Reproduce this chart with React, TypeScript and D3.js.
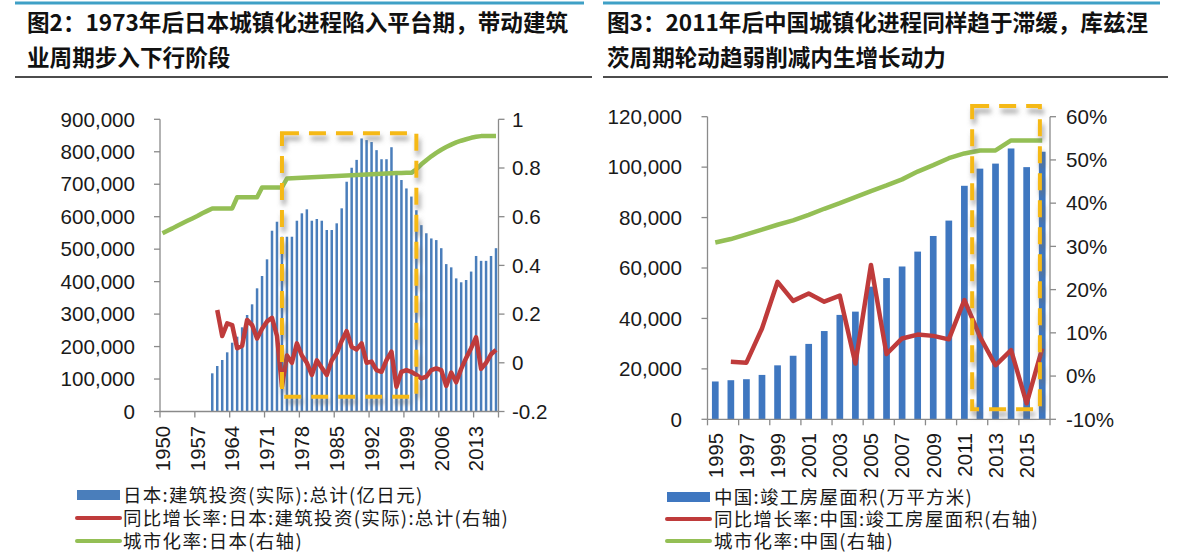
import React from 'react';
import * as d3 from 'd3';

// ---------- Japan (left) ----------
const jpYears: string[] = d3.range(1950, 2018).map(String);
const jpInvest: (number | null)[] = [
  null, null, null, null, null, null, null, null, null, null,
  117600, 140100, 158600, 182300, 211900, 230400, 259300, 297200, 330100, 379400,
  417300, 468700, 556800, 584500, 538300, 538300, 538300, 587600, 610400, 622700,
  587600, 592900, 587600, 559000, 559000, 579600, 625800, 707700, 750800, 775000,
  841000, 836000, 830000, 805000, 777000, 777000, 814000, 738000, 713000, 687000,
  662000, 620000, 574000, 549000, 533000, 528000, 503000, 454000, 444000, 410000,
  398000, 405000, 431000, 479000, 464000, 464000, 479000, 503000,
];
const jpGrowth: (number | null)[] = [
  null, null, null, null, null, null, null, null, null, null,
  null, 0.217, 0.11, 0.162, 0.155, 0.06, 0.07, 0.176, 0.155, 0.10,
  0.14, 0.17, 0.185, 0.11, -0.098, 0.03, 0.0, 0.08, 0.03, 0.0,
  -0.05, 0.01, -0.02, -0.05, 0.01, 0.04, 0.09, 0.13, 0.066, 0.055,
  0.08, 0.0, 0.005, -0.03, -0.037, 0.011, 0.046, -0.098, -0.037, -0.03,
  -0.037, -0.05, -0.064, -0.057, -0.03, -0.023, -0.03, -0.095, -0.04, -0.08,
  -0.025, 0.02, 0.06, 0.105, -0.025, 0.0, 0.035, 0.053,
];
const jpUrban: number[] = [
  0.532, 0.542, 0.552, 0.563, 0.573, 0.583, 0.593, 0.603, 0.614, 0.624,
  0.634, 0.634, 0.634, 0.634, 0.634, 0.68, 0.68, 0.68, 0.68, 0.68,
  0.72, 0.72, 0.72, 0.72, 0.72, 0.757, 0.758, 0.759, 0.76, 0.761,
  0.762, 0.763, 0.764, 0.765, 0.766, 0.767, 0.768, 0.769, 0.77, 0.771,
  0.772, 0.773, 0.774, 0.775, 0.776, 0.777, 0.778, 0.779, 0.779, 0.78,
  0.78, 0.795, 0.815, 0.832, 0.848, 0.862, 0.875, 0.886, 0.896, 0.905,
  0.912, 0.918, 0.924, 0.928, 0.931, 0.931, 0.931, 0.931,
];
const jpLeftTicks = [0, 100000, 200000, 300000, 400000, 500000, 600000, 700000, 800000, 900000];
const jpRightTicks = [-0.2, 0, 0.2, 0.4, 0.6, 0.8, 1];
const jpRightTickLabels = ['-0.2', '0', '0.2', '0.4', '0.6', '0.8', '1'];
const jpLabelYears = ['1950', '1957', '1964', '1971', '1978', '1985', '1992', '1999', '2006', '2013'];
const jpBox = { from: '1974', to: '2001', top: 0.943, bottom: -0.139 };
const jpLegend = [
  '日本:建筑投资(实际):总计(亿日元)',
  '同比增长率:日本:建筑投资(实际):总计(右轴)',
  '城市化率:日本(右轴)',
];
const jpTitle = ['图2：1973年后日本城镇化进程陷入平台期，带动建筑', '业周期步入下行阶段'];

// ---------- China (right) ----------
const cnYears: string[] = d3.range(1995, 2017).map(String);
const cnArea: number[] = [
  15000, 15500, 15900, 17600, 21400, 25200, 29900, 35000, 41400, 42700, 52600,
  56000, 60600, 66500, 72700, 78800, 92600, 99400, 101400, 107400, 100000, 106100,
];
const cnGrowth: (number | null)[] = [
  null, 3.3, 3.1, 11.0, 21.8, 17.4, 19.1, 17.2, 18.6, 2.9, 25.7,
  5.1, 8.7, 9.6, 9.3, 8.5, 17.6, 9.1, 2.5, 6.0, -6.3, 6.4,
];
const cnUrban: number[] = [
  30.9, 31.7, 32.8, 33.9, 35.0, 36.0, 37.3, 38.7, 40.0, 41.4, 42.8,
  44.1, 45.5, 47.3, 48.8, 50.4, 51.5, 52.2, 52.2, 54.5, 54.5, 54.5,
];
const cnLeftTicks = [0, 20000, 40000, 60000, 80000, 100000, 120000];
const cnRightTicks = [-10, 0, 10, 20, 30, 40, 50, 60];
const cnLabelYears = ['1995', '1997', '1999', '2001', '2003', '2005', '2007', '2009', '2011', '2013', '2015'];
const cnBox = { from: '2012', to: '2016', top: 62.5, bottom: -7.7 };
const cnLegend = [
  '中国:竣工房屋面积(万平方米)',
  '同比增长率:中国:竣工房屋面积(右轴)',
  '城市化率:中国(右轴)',
];
const cnTitle = ['图3：2011年后中国城镇化进程同样趋于滞缓，库兹涅', '茨周期轮动趋弱削减内生增长动力'];

// ---------- styles ----------
const BLUE_L = '#4a7ebb';
const BLUE_R = '#3f77c0';
const RED = '#bf3b3b';
const GREEN = '#94bf55';
const YELLOW = '#f5b914';
const AXIS = '#8a8a8a';
const TEXT = '#1a1a1a';
const NUMFONT = '"Liberation Sans", Arial, sans-serif';
const CJKFONT = '"Noto Sans CJK SC", "Noto Sans", sans-serif';

type PanelProps = {
  years: string[];
  bars: (number | null)[];
  growth: (number | null)[];
  urban: number[];
  x0: number; x1: number; yTop: number; yBottom: number;
  leftDomain: [number, number]; rightDomain: [number, number];
  leftTicks: number[]; leftFmt: (v: number) => string;
  rightTicks: number[]; rightFmt: (v: number, i: number) => string;
  labelYears: string[]; tickEvery: number;
  barFrac: number; barColor: string; lineW: number;
  box: { from: string; to: string; top: number; bottom: number };
  boxLeftAt: 'center' | 'start';
  leftLabelX: number; rightLabelX: number; labelTop: number;
  legend: string[]; legendX: number; legendY: number[]; legendTextX: number;
  title: string[]; titleX: number; ruleX0: number; ruleX1: number;
};

function Panel(p: PanelProps) {
  const x = d3.scaleBand<string>().domain(p.years).range([p.x0, p.x1]).padding(0);
  const bw = x.bandwidth();
  const yl = d3.scaleLinear().domain(p.leftDomain).range([p.yBottom, p.yTop]);
  const yr = d3.scaleLinear().domain(p.rightDomain).range([p.yBottom, p.yTop]);
  const cx = (yr0: string) => (x(yr0) as number) + bw / 2;

  const gLine = d3.line<number | null>()
    .defined((d) => d !== null)
    .x((_, i) => cx(p.years[i]))
    .y((d) => yr(d as number));
  const uLine = d3.line<number>()
    .x((_, i) => cx(p.years[i]))
    .y((d) => yr(d));

  const tickIdx = p.years.map((_, i) => i).filter((i) => i % p.tickEvery === 0);

  const bx0 = p.boxLeftAt === 'center' ? cx(p.box.from) : (x(p.box.from) as number);
  const bx1 = p.boxLeftAt === 'center' ? cx(p.box.to) : (x(p.box.to) as number) + bw * 0.35;
  const by0 = yr(p.box.top);
  const by1 = yr(p.box.bottom);

  return (
    <g>
      {/* title */}
      <line x1={p.ruleX0} x2={p.ruleX1 - 8} y1={3} y2={3} stroke="#3fa0c6" strokeWidth={3} />
      {p.title.map((t, i) => (
        <text key={i} x={p.titleX} y={31 + i * 35} fontFamily={CJKFONT} fontWeight={700} fontSize={22.6} fill="#111">{t}</text>
      ))}
      <line x1={p.ruleX0} x2={p.ruleX1} y1={77} y2={77} stroke="#111" strokeWidth={1.5} />

      {/* bars */}
      {p.bars.map((v, i) => v === null ? null : (
        <rect key={i} x={cx(p.years[i]) - (bw * p.barFrac) / 2} y={yl(v)} width={bw * p.barFrac}
          height={yl(0) - yl(v)} fill={p.barColor} />
      ))}

      {/* axes */}
      <line x1={p.x0} x2={p.x0} y1={p.yTop} y2={p.yBottom} stroke={AXIS} strokeWidth={1.3} />
      <line x1={p.x1} x2={p.x1} y1={p.yTop} y2={p.yBottom} stroke={AXIS} strokeWidth={1.3} />
      <line x1={p.x0} x2={p.x1} y1={p.yBottom} y2={p.yBottom} stroke={AXIS} strokeWidth={1.3} />
      {p.leftTicks.map((t) => (
        <g key={'l' + t}>
          <line x1={p.x0 - 6} x2={p.x0} y1={yl(t)} y2={yl(t)} stroke={AXIS} strokeWidth={1.3} />
          <text x={p.leftLabelX} y={yl(t)} dy="0.35em" textAnchor="end" fontFamily={NUMFONT} fontSize={20.6} fill={TEXT}>{p.leftFmt(t)}</text>
        </g>
      ))}
      {p.rightTicks.map((t, i) => (
        <g key={'r' + t}>
          <line x1={p.x1} x2={p.x1 + 6} y1={yr(t)} y2={yr(t)} stroke={AXIS} strokeWidth={1.3} />
          <text x={p.rightLabelX} y={yr(t)} dy="0.35em" textAnchor="start" fontFamily={NUMFONT} fontSize={20.6} fill={TEXT}>{p.rightFmt(t, i)}</text>
        </g>
      ))}
      {tickIdx.map((i) => (
        <line key={'t' + i} x1={x(p.years[i]) as number} x2={x(p.years[i]) as number} y1={p.yBottom} y2={p.yBottom + 6} stroke={AXIS} strokeWidth={1.3} />
      ))}
      <line x1={p.x1} x2={p.x1} y1={p.yBottom} y2={p.yBottom + 6} stroke={AXIS} strokeWidth={1.3} />
      {p.labelYears.map((yv) => (
        <text key={'x' + yv} transform={`translate(${cx(yv)},${p.labelTop}) rotate(-90)`} dy="0.36em" textAnchor="end"
          fontFamily={NUMFONT} fontSize={20.3} fill={TEXT}>{yv}</text>
      ))}

      {/* lines */}
      <path d={uLine(p.urban) || ''} fill="none" stroke={GREEN} strokeWidth={p.lineW} strokeLinejoin="round" />
      <path d={gLine(p.growth) || ''} fill="none" stroke={RED} strokeWidth={p.lineW} strokeLinejoin="round" />

      {/* highlight box */}
      <rect x={bx0} y={by0} width={bx1 - bx0} height={by1 - by0} fill="none" stroke={YELLOW}
        strokeWidth={4} strokeDasharray="17 10" filter="url(#shadow)" />

      {/* legend */}
      <rect x={p.legendX} y={p.legendY[0] - 5} width={43} height={10} fill={p.barColor} />
      <line x1={p.legendX} x2={p.legendX + 43} y1={p.legendY[1]} y2={p.legendY[1]} stroke={RED} strokeWidth={4} strokeLinecap="round" />
      <line x1={p.legendX} x2={p.legendX + 43} y1={p.legendY[2]} y2={p.legendY[2]} stroke={GREEN} strokeWidth={4} strokeLinecap="round" />
      {p.legend.map((t, i) => (
        <text key={'lg' + i} x={p.legendTextX} y={p.legendY[i]} dy="0.36em" fontFamily={CJKFONT} fontSize={18.5} letterSpacing={1.3} fill={TEXT}>{t}</text>
      ))}
    </g>
  );
}

export default function App() {
  const comma = d3.format(',');
  return (
    <svg width={1200} height={560} viewBox="0 0 1200 560" style={{ display: 'block', position: 'absolute', left: 0, top: 0, background: '#fff' }}>
      <defs>
        <filter id="shadow" x="-10%" y="-10%" width="130%" height="130%">
          <feDropShadow dx={2} dy={5} stdDeviation={2.5} floodColor="#6d6d6d" floodOpacity={0.65} />
        </filter>
      </defs>
      <rect width={1200} height={560} fill="#fff" />
      <Panel
        years={jpYears} bars={jpInvest} growth={jpGrowth} urban={jpUrban}
        x0={160} x1={498.5} yTop={119.3} yBottom={411.5}
        leftDomain={[0, 900000]} rightDomain={[-0.2, 1]}
        leftTicks={jpLeftTicks} leftFmt={(v) => comma(v)}
        rightTicks={jpRightTicks} rightFmt={(_, i) => jpRightTickLabels[i]}
        labelYears={jpLabelYears} tickEvery={7}
        barFrac={0.5} barColor={BLUE_L} lineW={4.5}
        box={jpBox} boxLeftAt="center"
        leftLabelX={135} rightLabelX={512} labelTop={426}
        legend={jpLegend} legendX={77} legendY={[495, 518, 541]} legendTextX={123}
        title={jpTitle} titleX={27} ruleX0={15} ruleX1={592}
      />
      <Panel
        years={cnYears} bars={cnArea} growth={cnGrowth} urban={cnUrban}
        x0={707.5} x1={1050} yTop={116.7} yBottom={419.3}
        leftDomain={[0, 120000]} rightDomain={[-10, 60]}
        leftTicks={cnLeftTicks} leftFmt={(v) => comma(v)}
        rightTicks={cnRightTicks} rightFmt={(v) => `${v}%`}
        labelYears={cnLabelYears} tickEvery={2}
        barFrac={0.43} barColor={BLUE_R} lineW={4.5}
        box={cnBox} boxLeftAt="start"
        leftLabelX={682} rightLabelX={1066} labelTop={433}
        legend={cnLegend} legendX={667} legendY={[497, 519, 541]} legendTextX={714}
        title={cnTitle} titleX={607} ruleX0={603} ruleX1={1168}
      />
    </svg>
  );
}
